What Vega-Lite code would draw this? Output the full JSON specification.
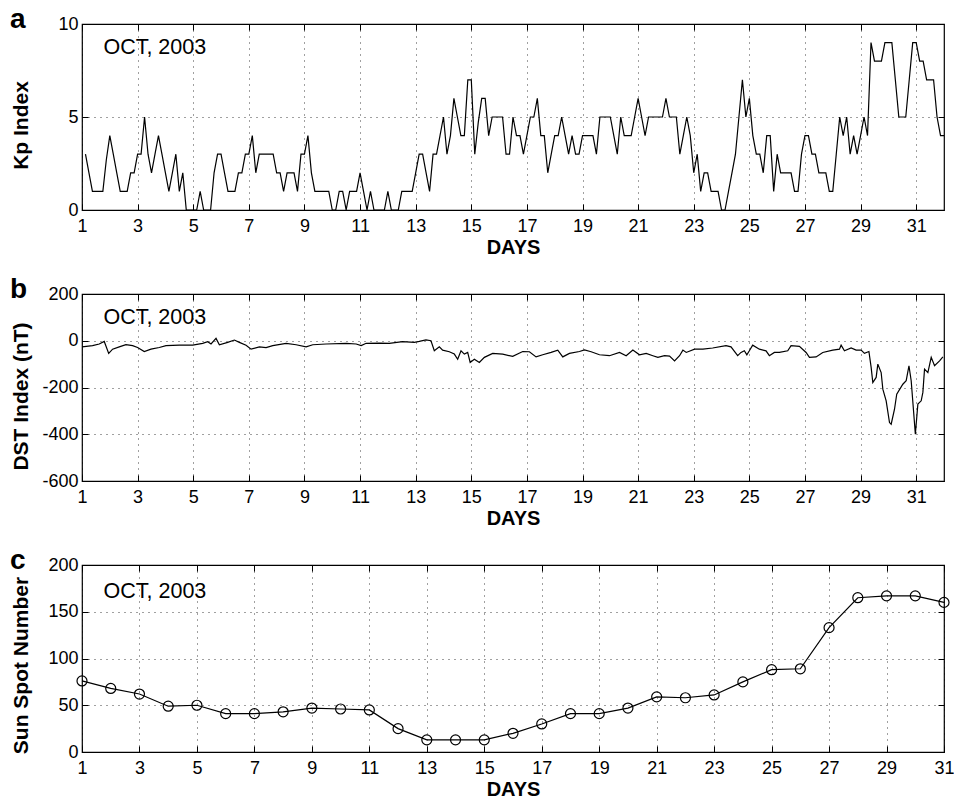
{
  "$schema": "https://vega.github.io/schema/vega-lite/v6.json",
  "background": "white",
  "padding": {"left": 9, "top": 5, "right": 0, "bottom": 0},
  "bounds": "flush",
  "spacing": 84,
  "config": {
    "font": "Liberation Sans",
    "view": {"stroke": "black", "strokeWidth": 1.2},
    "axis": {
      "labelFont": "Liberation Sans", "labelFontSize": 18, "labelColor": "black",
      "titleFont": "Liberation Sans", "titleFontSize": 21, "titleFontWeight": "bold", "titleColor": "black",
      "domain": false, "tickColor": "black", "tickSize": -6, "tickWidth": 1, "labelPadding": 10,
      "gridColor": "black", "gridDash": [1, 5], "gridOpacity": 0.75, "gridWidth": 1,
      "labelFlush": false, "labelOverlap": false
    },
    "axisBottom": {"labelPadding": 13}
  },
  "datasets": {
    "kp": [
      {"d":1.125,"kp":3},{"d":1.25,"kp":2},{"d":1.375,"kp":1},{"d":1.5,"kp":1},{"d":1.625,"kp":1},{"d":1.75,"kp":1},{"d":1.875,"kp":2.7},{"d":2.0,"kp":4},
      {"d":2.125,"kp":3},{"d":2.25,"kp":2},{"d":2.375,"kp":1},{"d":2.5,"kp":1},{"d":2.625,"kp":1},{"d":2.75,"kp":2},{"d":2.875,"kp":2},{"d":3.0,"kp":3},
      {"d":3.125,"kp":3},{"d":3.25,"kp":5},{"d":3.375,"kp":3},{"d":3.5,"kp":2},{"d":3.625,"kp":3},{"d":3.75,"kp":4},{"d":3.875,"kp":3},{"d":4.0,"kp":2},
      {"d":4.125,"kp":1},{"d":4.25,"kp":2},{"d":4.375,"kp":3},{"d":4.5,"kp":1},{"d":4.625,"kp":2},{"d":4.75,"kp":0},{"d":4.875,"kp":0},{"d":5.0,"kp":0},
      {"d":5.125,"kp":0},{"d":5.25,"kp":1},{"d":5.375,"kp":0},{"d":5.5,"kp":0},{"d":5.625,"kp":0},{"d":5.75,"kp":2},{"d":5.875,"kp":3},{"d":6.0,"kp":3},
      {"d":6.125,"kp":2},{"d":6.25,"kp":1},{"d":6.375,"kp":1},{"d":6.5,"kp":1},{"d":6.625,"kp":2},{"d":6.75,"kp":2},{"d":6.875,"kp":3},{"d":7.0,"kp":3},
      {"d":7.125,"kp":4},{"d":7.25,"kp":2},{"d":7.375,"kp":3},{"d":7.5,"kp":3},{"d":7.625,"kp":3},{"d":7.75,"kp":3},{"d":7.875,"kp":3},{"d":8.0,"kp":2},
      {"d":8.125,"kp":2},{"d":8.25,"kp":1},{"d":8.375,"kp":2},{"d":8.5,"kp":2},{"d":8.625,"kp":2},{"d":8.75,"kp":1},{"d":8.875,"kp":3},{"d":9.0,"kp":3},
      {"d":9.125,"kp":4},{"d":9.25,"kp":2},{"d":9.375,"kp":1},{"d":9.5,"kp":1},{"d":9.625,"kp":1},{"d":9.75,"kp":1},{"d":9.875,"kp":1},{"d":10.0,"kp":0},
      {"d":10.125,"kp":0},{"d":10.25,"kp":1},{"d":10.375,"kp":1},{"d":10.5,"kp":0},{"d":10.625,"kp":1},{"d":10.75,"kp":1},{"d":10.875,"kp":1},{"d":11.0,"kp":2},
      {"d":11.125,"kp":1},{"d":11.25,"kp":0},{"d":11.375,"kp":1},{"d":11.5,"kp":0},{"d":11.625,"kp":0},{"d":11.75,"kp":0},{"d":11.875,"kp":0},{"d":12.0,"kp":1},
      {"d":12.125,"kp":0},{"d":12.25,"kp":0},{"d":12.375,"kp":0},{"d":12.5,"kp":1},{"d":12.625,"kp":1},{"d":12.75,"kp":1},{"d":12.875,"kp":1},{"d":13.0,"kp":2},
      {"d":13.125,"kp":3},{"d":13.25,"kp":3},{"d":13.375,"kp":2},{"d":13.5,"kp":1},{"d":13.625,"kp":3},{"d":13.75,"kp":3},{"d":13.875,"kp":4},{"d":14.0,"kp":5},
      {"d":14.125,"kp":3},{"d":14.25,"kp":4},{"d":14.375,"kp":6},{"d":14.5,"kp":5},{"d":14.625,"kp":4},{"d":14.75,"kp":4},{"d":14.875,"kp":7},{"d":15.0,"kp":7},
      {"d":15.125,"kp":3},{"d":15.25,"kp":4.7},{"d":15.375,"kp":6},{"d":15.5,"kp":6},{"d":15.625,"kp":4},{"d":15.75,"kp":5},{"d":15.875,"kp":5},{"d":16.0,"kp":5},
      {"d":16.125,"kp":5},{"d":16.25,"kp":3},{"d":16.375,"kp":3},{"d":16.5,"kp":5},{"d":16.625,"kp":4},{"d":16.75,"kp":4},{"d":16.875,"kp":3},{"d":17.0,"kp":4},
      {"d":17.125,"kp":5},{"d":17.25,"kp":5},{"d":17.375,"kp":6},{"d":17.5,"kp":4},{"d":17.625,"kp":4},{"d":17.75,"kp":2},{"d":17.875,"kp":3},{"d":18.0,"kp":4},
      {"d":18.125,"kp":4},{"d":18.25,"kp":5},{"d":18.375,"kp":4},{"d":18.5,"kp":3},{"d":18.625,"kp":4},{"d":18.75,"kp":3},{"d":18.875,"kp":3},{"d":19.0,"kp":4},
      {"d":19.125,"kp":4},{"d":19.25,"kp":4},{"d":19.375,"kp":4},{"d":19.5,"kp":3},{"d":19.625,"kp":5},{"d":19.75,"kp":5},{"d":19.875,"kp":5},{"d":20.0,"kp":5},
      {"d":20.125,"kp":4},{"d":20.25,"kp":3},{"d":20.375,"kp":5},{"d":20.5,"kp":4},{"d":20.625,"kp":4},{"d":20.75,"kp":4},{"d":20.875,"kp":5},{"d":21.0,"kp":6},
      {"d":21.125,"kp":5},{"d":21.25,"kp":4},{"d":21.375,"kp":5},{"d":21.5,"kp":5},{"d":21.625,"kp":5},{"d":21.75,"kp":5},{"d":21.875,"kp":5},{"d":22.0,"kp":6},
      {"d":22.125,"kp":5},{"d":22.25,"kp":5},{"d":22.375,"kp":5},{"d":22.5,"kp":3},{"d":22.625,"kp":4},{"d":22.75,"kp":5},{"d":22.875,"kp":4},{"d":23.0,"kp":2},
      {"d":23.125,"kp":3},{"d":23.25,"kp":1},{"d":23.375,"kp":2},{"d":23.5,"kp":2},{"d":23.625,"kp":1},{"d":23.75,"kp":1},{"d":23.875,"kp":1},{"d":24.0,"kp":0},
      {"d":24.125,"kp":0},{"d":24.25,"kp":1},{"d":24.375,"kp":2},{"d":24.5,"kp":3},{"d":24.625,"kp":5},{"d":24.75,"kp":7},{"d":24.875,"kp":5},{"d":25.0,"kp":6},
      {"d":25.125,"kp":4},{"d":25.25,"kp":3},{"d":25.375,"kp":3},{"d":25.5,"kp":2},{"d":25.625,"kp":4},{"d":25.75,"kp":4},{"d":25.875,"kp":1},{"d":26.0,"kp":3},
      {"d":26.125,"kp":2},{"d":26.25,"kp":2},{"d":26.375,"kp":2},{"d":26.5,"kp":2},{"d":26.625,"kp":1},{"d":26.75,"kp":1},{"d":26.875,"kp":3},{"d":27.0,"kp":4},
      {"d":27.125,"kp":4},{"d":27.25,"kp":3},{"d":27.375,"kp":3},{"d":27.5,"kp":2},{"d":27.625,"kp":2},{"d":27.75,"kp":2},{"d":27.875,"kp":1},{"d":28.0,"kp":1},
      {"d":28.125,"kp":3},{"d":28.25,"kp":5},{"d":28.375,"kp":4},{"d":28.5,"kp":5},{"d":28.625,"kp":3},{"d":28.75,"kp":4},{"d":28.875,"kp":3},{"d":29.0,"kp":4},
      {"d":29.125,"kp":5},{"d":29.25,"kp":4},{"d":29.375,"kp":9},{"d":29.5,"kp":8},{"d":29.625,"kp":8},{"d":29.75,"kp":8},{"d":29.875,"kp":9},{"d":30.0,"kp":9},
      {"d":30.125,"kp":9},{"d":30.25,"kp":7},{"d":30.375,"kp":5},{"d":30.5,"kp":5},{"d":30.625,"kp":5},{"d":30.75,"kp":7},{"d":30.875,"kp":9},{"d":31.0,"kp":9},
      {"d":31.125,"kp":8},{"d":31.25,"kp":8},{"d":31.375,"kp":7},{"d":31.5,"kp":7},{"d":31.625,"kp":7},{"d":31.75,"kp":5},{"d":31.875,"kp":4},{"d":32.0,"kp":4}
    ],
    "dst": [
      {"d":1.0,"v":-26},{"d":1.38,"v":-21},{"d":1.62,"v":-14},{"d":1.8,"v":-3},{"d":1.96,"v":-54},{"d":2.1,"v":-36},{"d":2.34,"v":-26},{"d":2.58,"v":-17},
      {"d":2.82,"v":-21},{"d":3.0,"v":-29},{"d":3.24,"v":-46},{"d":3.48,"v":-36},{"d":3.78,"v":-29},{"d":4.02,"v":-21},{"d":4.5,"v":-19},{"d":4.98,"v":-19},
      {"d":5.34,"v":-11},{"d":5.52,"v":-4},{"d":5.64,"v":-14},{"d":5.82,"v":10},{"d":5.94,"v":-17},{"d":6.24,"v":-7},{"d":6.48,"v":3},{"d":6.66,"v":-7},
      {"d":6.9,"v":-19},{"d":7.08,"v":-36},{"d":7.38,"v":-26},{"d":7.62,"v":-29},{"d":7.86,"v":-21},{"d":8.34,"v":-11},{"d":8.7,"v":-17},{"d":9.06,"v":-26},
      {"d":9.3,"v":-17},{"d":9.78,"v":-14},{"d":10.5,"v":-11},{"d":10.86,"v":-14},{"d":11.04,"v":-21},{"d":11.22,"v":-11},{"d":11.7,"v":-10},{"d":12.05,"v":-11},
      {"d":12.53,"v":-4},{"d":12.95,"v":-7},{"d":13.13,"v":-3},{"d":13.37,"v":4},{"d":13.55,"v":0},{"d":13.67,"v":-43},{"d":13.85,"v":-26},{"d":13.97,"v":-40},
      {"d":14.21,"v":-47},{"d":14.39,"v":-57},{"d":14.51,"v":-79},{"d":14.63,"v":-43},{"d":14.75,"v":-57},{"d":14.87,"v":-50},{"d":14.96,"v":-93},{"d":15.11,"v":-79},
      {"d":15.29,"v":-93},{"d":15.47,"v":-71},{"d":15.77,"v":-54},{"d":16.13,"v":-57},{"d":16.49,"v":-67},{"d":16.85,"v":-46},{"d":17.09,"v":-47},{"d":17.33,"v":-69},
      {"d":17.57,"v":-60},{"d":17.87,"v":-50},{"d":18.11,"v":-40},{"d":18.29,"v":-69},{"d":18.53,"v":-54},{"d":18.89,"v":-46},{"d":19.07,"v":-39},{"d":19.31,"v":-47},
      {"d":19.61,"v":-60},{"d":19.97,"v":-64},{"d":20.33,"v":-50},{"d":20.57,"v":-64},{"d":20.81,"v":-40},{"d":21.05,"v":-60},{"d":21.29,"v":-54},{"d":21.53,"v":-64},
      {"d":21.71,"v":-71},{"d":21.95,"v":-64},{"d":22.13,"v":-66},{"d":22.31,"v":-86},{"d":22.49,"v":-64},{"d":22.61,"v":-40},{"d":22.73,"v":-50},{"d":23.03,"v":-36},
      {"d":23.33,"v":-36},{"d":23.68,"v":-31},{"d":24.16,"v":-21},{"d":24.34,"v":-26},{"d":24.58,"v":-64},{"d":24.7,"v":-50},{"d":24.82,"v":-43},{"d":24.91,"v":-60},
      {"d":25.0,"v":-43},{"d":25.12,"v":-19},{"d":25.36,"v":-36},{"d":25.6,"v":-43},{"d":25.72,"v":-64},{"d":25.9,"v":-50},{"d":26.08,"v":-50},{"d":26.38,"v":-43},
      {"d":26.5,"v":-21},{"d":26.8,"v":-24},{"d":27.04,"v":-50},{"d":27.16,"v":-71},{"d":27.4,"v":-69},{"d":27.64,"v":-50},{"d":28.0,"v":-40},{"d":28.24,"v":-36},
      {"d":28.3,"v":-19},{"d":28.42,"v":-43},{"d":28.66,"v":-31},{"d":28.84,"v":-40},{"d":29.02,"v":-40},{"d":29.14,"v":-54},{"d":29.3,"v":-46},{"d":29.38,"v":-114},
      {"d":29.44,"v":-179},{"d":29.56,"v":-157},{"d":29.62,"v":-100},{"d":29.74,"v":-136},{"d":29.8,"v":-207},{"d":29.92,"v":-257},{"d":30.04,"v":-350},{"d":30.1,"v":-357},
      {"d":30.22,"v":-293},{"d":30.3,"v":-229},{"d":30.52,"v":-186},{"d":30.64,"v":-171},{"d":30.74,"v":-107},{"d":30.82,"v":-171},{"d":30.9,"v":-293},{"d":30.97,"v":-400},
      {"d":31.06,"v":-271},{"d":31.18,"v":-257},{"d":31.24,"v":-221},{"d":31.3,"v":-121},{"d":31.42,"v":-136},{"d":31.54,"v":-71},{"d":31.66,"v":-107},{"d":31.84,"v":-86},
      {"d":31.96,"v":-69}
    ],
    "ssn": [
      {"d":1,"s":76},{"d":2,"s":68},{"d":3,"s":62},{"d":4,"s":49},{"d":5,"s":50},{"d":6,"s":41},{"d":7,"s":41},{"d":8,"s":43},
      {"d":9,"s":47},{"d":10,"s":46},{"d":11,"s":45},{"d":12,"s":25},{"d":13,"s":13},{"d":14,"s":13},{"d":15,"s":13},{"d":16,"s":20},
      {"d":17,"s":30},{"d":18,"s":41},{"d":19,"s":41},{"d":20,"s":47},{"d":21,"s":59},{"d":22,"s":58},{"d":23,"s":61},{"d":24,"s":75},
      {"d":25,"s":88},{"d":26,"s":89},{"d":27,"s":133},{"d":28,"s":165},{"d":29,"s":167},{"d":30,"s":167},{"d":31,"s":160}
    ]
  },
  "vconcat": [
    {
      "width": 862, "height": 186,
      "title": {"text": "a", "anchor": "start", "frame": "bounds", "fontSize": 28, "fontWeight": "bold", "baseline": "alphabetic", "offset": -14, "dy": 27, "font": "Liberation Sans", "color": "black"},
      "layer": [
        {
          "data": {"name": "kp"},
          "mark": {"type": "line", "color": "black", "strokeWidth": 1.2},
          "encoding": {
            "x": {"field": "d", "type": "quantitative", "scale": {"domain": [1, 32], "nice": false, "zero": false},
                  "axis": {"orient": "bottom", "values": [1,3,5,7,9,11,13,15,17,19,21,23,25,27,29,31], "title": "DAYS", "titleFontSize": 20, "titlePadding": 2, "grid": true, "labelExpr": "datum.value + ''"}},
            "y": {"field": "kp", "type": "quantitative", "scale": {"domain": [0, 10], "nice": false},
                  "axis": {"orient": "left", "values": [0, 5, 10], "title": "Kp Index", "grid": true, "titleX": -55, "titleY": 101, "titleBaseline": "alphabetic", "labelExpr": "datum.value + ''"}}
          }
        },
        {
          "data": {"values": [{}]},
          "mark": {"type": "text", "text": "OCT, 2003", "align": "left", "baseline": "alphabetic", "fontSize": 21.5, "font": "Liberation Sans", "color": "black"},
          "encoding": {
            "x": {"datum": 1.77, "type": "quantitative", "scale": {"domain": [1, 32], "nice": false, "zero": false},
                  "axis": {"orient": "top", "values": [1,3,5,7,9,11,13,15,17,19,21,23,25,27,29,31], "labels": false, "grid": false, "title": null}},
            "y": {"datum": 8.39, "type": "quantitative", "scale": {"domain": [0, 10], "nice": false},
                  "axis": {"orient": "right", "values": [0, 5, 10], "labels": false, "grid": false, "title": null}}
          }
        }
      ]
    },
    {
      "width": 862, "height": 187,
      "title": {"text": "b", "anchor": "start", "frame": "bounds", "fontSize": 28, "fontWeight": "bold", "baseline": "alphabetic", "offset": -14, "dy": 27, "font": "Liberation Sans", "color": "black"},
      "layer": [
        {
          "data": {"name": "dst"},
          "mark": {"type": "line", "color": "black", "strokeWidth": 1.2},
          "encoding": {
            "x": {"field": "d", "type": "quantitative", "scale": {"domain": [1, 32], "nice": false, "zero": false},
                  "axis": {"orient": "bottom", "values": [1,3,5,7,9,11,13,15,17,19,21,23,25,27,29,31], "title": "DAYS", "titleFontSize": 20, "titlePadding": 2, "grid": true, "labelExpr": "datum.value + ''"}},
            "y": {"field": "v", "type": "quantitative", "scale": {"domain": [-600, 200], "nice": false},
                  "axis": {"orient": "left", "values": [-600, -400, -200, 0, 200], "title": "DST Index (nT)", "grid": true, "titleX": -55, "titleY": 102, "titleBaseline": "alphabetic", "labelExpr": "datum.value + ''"}}
          }
        },
        {
          "data": {"values": [{}]},
          "mark": {"type": "text", "text": "OCT, 2003", "align": "left", "baseline": "alphabetic", "fontSize": 21.5, "font": "Liberation Sans", "color": "black"},
          "encoding": {
            "x": {"datum": 1.77, "type": "quantitative", "scale": {"domain": [1, 32], "nice": false, "zero": false},
                  "axis": {"orient": "top", "values": [1,3,5,7,9,11,13,15,17,19,21,23,25,27,29,31], "labels": false, "grid": false, "title": null}},
            "y": {"datum": 72, "type": "quantitative", "scale": {"domain": [-600, 200], "nice": false},
                  "axis": {"orient": "right", "values": [-600, -400, -200, 0, 200], "labels": false, "grid": false, "title": null}}
          }
        }
      ]
    },
    {
      "width": 862, "height": 187,
      "title": {"text": "c", "anchor": "start", "frame": "bounds", "fontSize": 28, "fontWeight": "bold", "baseline": "alphabetic", "offset": -14, "dy": 27, "font": "Liberation Sans", "color": "black"},
      "layer": [
        {
          "data": {"name": "ssn"},
          "mark": {"type": "line", "color": "black", "strokeWidth": 1.2, "point": {"filled": false, "size": 100, "stroke": "black", "strokeWidth": 1.2, "shape": "circle"}},
          "encoding": {
            "x": {"field": "d", "type": "quantitative", "scale": {"domain": [1, 31], "nice": false, "zero": false},
                  "axis": {"orient": "bottom", "values": [1,3,5,7,9,11,13,15,17,19,21,23,25,27,29,31], "title": "DAYS", "titleFontSize": 20, "titlePadding": 2, "grid": true, "labelExpr": "datum.value + ''"}},
            "y": {"field": "s", "type": "quantitative", "scale": {"domain": [0, 200], "nice": false},
                  "axis": {"orient": "left", "values": [0, 50, 100, 150, 200], "title": "Sun Spot Number", "grid": true, "titleX": -55, "titleY": 100, "titleBaseline": "alphabetic", "labelExpr": "datum.value + ''"}}
          }
        },
        {
          "data": {"values": [{}]},
          "mark": {"type": "text", "text": "OCT, 2003", "align": "left", "baseline": "alphabetic", "fontSize": 21.5, "font": "Liberation Sans", "color": "black"},
          "encoding": {
            "x": {"datum": 1.75, "type": "quantitative", "scale": {"domain": [1, 31], "nice": false, "zero": false},
                  "axis": {"orient": "top", "values": [1,3,5,7,9,11,13,15,17,19,21,23,25,27,29,31], "labels": false, "grid": false, "title": null}},
            "y": {"datum": 165, "type": "quantitative", "scale": {"domain": [0, 200], "nice": false},
                  "axis": {"orient": "right", "values": [0, 50, 100, 150, 200], "labels": false, "grid": false, "title": null}}
          }
        }
      ]
    }
  ]
}
